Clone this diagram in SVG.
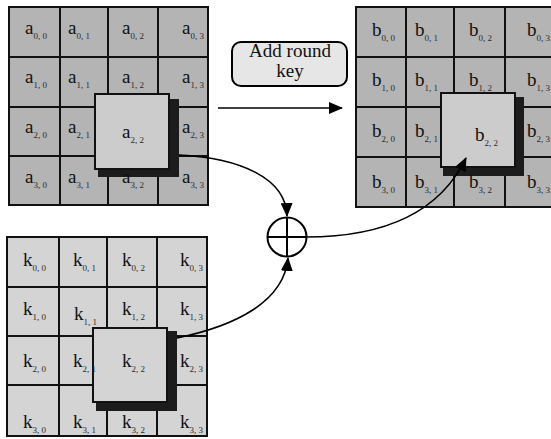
<svg xmlns="http://www.w3.org/2000/svg" width="551" height="439" viewBox="0 0 551 439">
<style>
.m{font-family:"Liberation Serif","DejaVu Serif",serif;font-size:19px;fill:#111}
.s{font-size:9px;fill:#2a2a2a}
.gl{stroke:#111;stroke-width:2;fill:none}
.sh{fill:#1c1c1c}
.hb{stroke:#111;stroke-width:2}
.cn{stroke:#000;stroke-width:1.6;fill:none}
</style>
<defs>
<marker id="ah" viewBox="0 0 14 12" refX="13" refY="6" markerWidth="14" markerHeight="12" markerUnits="userSpaceOnUse" orient="auto">
<path d="M0,0 L14,6 L0,12 Z" fill="#000"/>
</marker>
</defs>
<rect width="551" height="439" fill="#fff"/>

<g id="state-a">
<rect x="9" y="7" width="199" height="198" fill="#b4b4b4"/>
<path class="gl" d="M9,7H208V205H9Z M60,7V205 M108,7V205 M158,7V205 M9,57H208 M9,107H208 M9,156H208"/>
<rect class="sh" x="98" y="99" width="81" height="78"/>
<rect class="hb" x="95" y="94" width="74" height="75" fill="#cccccc"/>
<text class="m" x="25" y="34">a<tspan class="s" dy="5">0, 0</tspan></text>
<text class="m" x="68" y="34">a<tspan class="s" dy="5">0, 1</tspan></text>
<text class="m" x="122" y="34">a<tspan class="s" dy="5">0, 2</tspan></text>
<text class="m" x="182" y="34">a<tspan class="s" dy="5">0, 3</tspan></text>
<text class="m" x="25" y="83">a<tspan class="s" dy="5">1, 0</tspan></text>
<text class="m" x="68" y="83">a<tspan class="s" dy="5">1, 1</tspan></text>
<text class="m" x="122" y="83">a<tspan class="s" dy="5">1, 2</tspan></text>
<text class="m" x="182" y="83">a<tspan class="s" dy="5">1, 3</tspan></text>
<text class="m" x="25" y="133">a<tspan class="s" dy="5">2, 0</tspan></text>
<text class="m" x="68" y="133">a<tspan class="s" dy="5">2, 1</tspan></text>
<text class="m" x="122" y="138">a<tspan class="s" dy="5">2, 2</tspan></text>
<text class="m" x="182" y="133">a<tspan class="s" dy="5">2, 3</tspan></text>
<text class="m" x="25" y="183">a<tspan class="s" dy="5">3, 0</tspan></text>
<text class="m" x="68" y="183">a<tspan class="s" dy="5">3, 1</tspan></text>
<text class="m" x="122" y="183">a<tspan class="s" dy="5">3, 2</tspan></text>
<text class="m" x="182" y="183">a<tspan class="s" dy="5">3, 3</tspan></text>
</g>

<g id="state-b">
<rect x="356" y="7" width="197" height="200" fill="#b4b4b4"/>
<path class="gl" d="M356,7H553V207H356Z M406,7V207 M454,7V207 M505,7V207 M356,57H553 M356,107H553 M356,157H553"/>
<rect class="sh" x="443" y="97" width="81" height="79"/>
<rect class="hb" x="441" y="93" width="74" height="74" fill="#cccccc"/>
<text class="m" x="372" y="36">b<tspan class="s" dy="5">0, 0</tspan></text>
<text class="m" x="415" y="36">b<tspan class="s" dy="5">0, 1</tspan></text>
<text class="m" x="469" y="36">b<tspan class="s" dy="5">0, 2</tspan></text>
<text class="m" x="527" y="36">b<tspan class="s" dy="5">0, 3</tspan></text>
<text class="m" x="372" y="86">b<tspan class="s" dy="5">1, 0</tspan></text>
<text class="m" x="415" y="86">b<tspan class="s" dy="5">1, 1</tspan></text>
<text class="m" x="469" y="86">b<tspan class="s" dy="5">1, 2</tspan></text>
<text class="m" x="527" y="86">b<tspan class="s" dy="5">1, 3</tspan></text>
<text class="m" x="372" y="137">b<tspan class="s" dy="5">2, 0</tspan></text>
<text class="m" x="415" y="137">b<tspan class="s" dy="5">2, 1</tspan></text>
<text class="m" x="475" y="141">b<tspan class="s" dy="5">2, 2</tspan></text>
<text class="m" x="527" y="137">b<tspan class="s" dy="5">2, 3</tspan></text>
<text class="m" x="372" y="188">b<tspan class="s" dy="5">3, 0</tspan></text>
<text class="m" x="415" y="188">b<tspan class="s" dy="5">3, 1</tspan></text>
<text class="m" x="469" y="188">b<tspan class="s" dy="5">3, 2</tspan></text>
<text class="m" x="527" y="188">b<tspan class="s" dy="5">3, 3</tspan></text>
</g>

<g id="key-k">
<rect x="7" y="237" width="200" height="199" fill="#d4d4d4"/>
<path class="gl" d="M7,237H207V436H7Z M59,237V436 M107,237V436 M157,237V436 M7,287H207 M7,336H207 M7,385H207"/>
<rect class="sh" x="96" y="331" width="81" height="80"/>
<rect class="hb" x="93" y="328" width="74" height="74" fill="#d4d4d4"/>
<text class="m" x="23" y="266">k<tspan class="s" dy="5">0, 0</tspan></text>
<text class="m" x="73" y="266">k<tspan class="s" dy="5">0, 1</tspan></text>
<text class="m" x="122" y="266">k<tspan class="s" dy="5">0, 2</tspan></text>
<text class="m" x="180" y="266">k<tspan class="s" dy="5">0, 3</tspan></text>
<text class="m" x="23" y="315">k<tspan class="s" dy="5">1, 0</tspan></text>
<text class="m" x="74" y="320">k<tspan class="s" dy="5">1, 1</tspan></text>
<text class="m" x="122" y="315">k<tspan class="s" dy="5">1, 2</tspan></text>
<text class="m" x="180" y="315">k<tspan class="s" dy="5">1, 3</tspan></text>
<text class="m" x="23" y="367">k<tspan class="s" dy="5">2, 0</tspan></text>
<text class="m" x="73" y="367">k<tspan class="s" dy="5">2, 1</tspan></text>
<text class="m" x="122" y="367">k<tspan class="s" dy="5">2, 2</tspan></text>
<text class="m" x="180" y="367">k<tspan class="s" dy="5">2, 3</tspan></text>
<text class="m" x="23" y="428">k<tspan class="s" dy="5">3, 0</tspan></text>
<text class="m" x="73" y="428">k<tspan class="s" dy="5">3, 1</tspan></text>
<text class="m" x="122" y="428">k<tspan class="s" dy="5">3, 2</tspan></text>
<text class="m" x="180" y="428">k<tspan class="s" dy="5">3, 3</tspan></text>
</g>

<g id="add-round-key">
<rect x="232" y="42" width="115" height="44" rx="9" ry="9" fill="#e6e6e6" stroke="#000" stroke-width="2"/>
<text class="m" x="290" y="57" text-anchor="middle">Add round</text>
<text class="m" x="290" y="77" text-anchor="middle">key</text>
</g>

<g id="xor">
<circle cx="287" cy="237" r="19.5" fill="#fff" stroke="#000" stroke-width="2"/>
<path d="M287,217.5V256.5 M267.5,237H306.5" stroke="#000" stroke-width="2"/>
</g>

<g id="connectors">
<path class="cn" d="M218,108H342" marker-end="url(#ah)"/>
<path class="cn" d="M179,155 C240,158 286,178 287,216" marker-end="url(#ah)"/>
<path class="cn" d="M177,338 C235,326 284,302 288,258" marker-end="url(#ah)"/>
<path class="cn" d="M306,237 C385,237 440,212 466,158" marker-end="url(#ah)"/>
</g>
</svg>
